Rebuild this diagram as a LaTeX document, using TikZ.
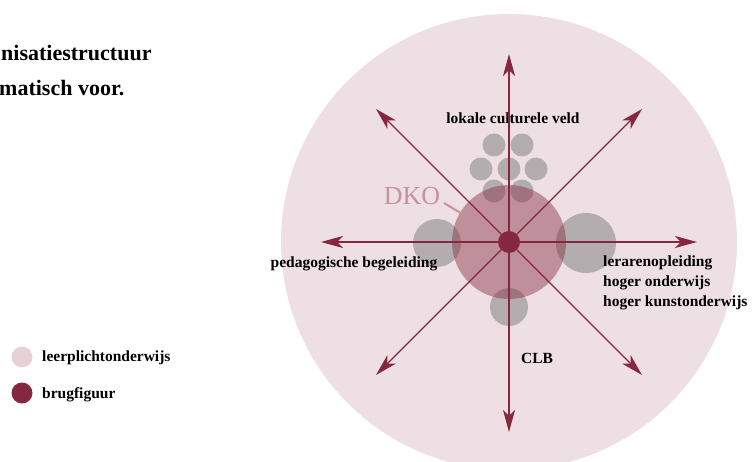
\documentclass[tikz,border=0pt]{standalone}
\usepackage{fontspec}
\setmainfont{Liberation Serif}
\usepackage{xcolor}
\usepackage{tikz}
\usetikzlibrary{arrows.meta}

\definecolor{wijn}{HTML}{85273F}
\definecolor{roze}{HTML}{EDDFE3}
\definecolor{lichtroze}{HTML}{E6D1D7}
\definecolor{dkotekst}{HTML}{C8919F}

\begin{document}
\begin{tikzpicture}[x=1pt,y=-1pt,
  etiket/.style={font=\fontsize{15.5}{20}\selectfont\bfseries,text=black,inner sep=0pt},
  titel/.style={font=\fontsize{22}{34}\selectfont\bfseries,text=black,inner sep=0pt},
  pijl/.style={-{Stealth[length=22pt,width=12pt,inset=6pt]},line width=1.4pt,draw=wijn},
  grijs/.style={circle,fill=gray,fill opacity=0.52,inner sep=0pt,minimum size=#1}
]
\useasboundingbox (0,0) rectangle (754,462);
\clip (0,0) rectangle (754,462);

% Background field
\node[circle,fill=roze,inner sep=0pt,minimum size=456pt] (veld) at (509,242) {};

% Grey partners
\node[grijs=23pt] (c1) at (494,145) {};
\node[grijs=23pt] (c2) at (522,145) {};
\node[grijs=23pt] (c3) at (481,169) {};
\node[grijs=23pt] (c4) at (509,169) {};
\node[grijs=23pt] (c5) at (536,169) {};
\node[grijs=23pt] (c6) at (494,191) {};
\node[grijs=23pt] (c7) at (522,191) {};
\node[grijs=48pt] (pbd) at (437,243) {};
\node[grijs=60pt] (hoger) at (586,243) {};
\node[grijs=38pt] (clb) at (509,307) {};

% DKO
\node[circle,fill=wijn,fill opacity=0.43,inner sep=0pt,minimum size=114pt] (dko) at (509,242) {};
\node[font=\fontsize{26}{26}\selectfont,text=dkotekst,inner sep=0pt,anchor=base] (dkolabel) at (412,205) {DKO};
\coordinate (dkohaak) at (444,203);
\draw[dkotekst,line width=2pt] (dkohaak) -- (dko);

% Labels
\node[etiket,anchor=base] (lokaal) at (513,124) {lokale culturele veld};
\node[etiket,anchor=base] (pedag) at (354,267) {pedagogische begeleiding};
\node[etiket,anchor=north west,align=left] (leraren) at (603,256)
  {lerarenopleiding\\ hoger onderwijs\\ hoger kunstonderwijs};
\node[etiket,anchor=base] (clblabel) at (537,363) {CLB};

% Hub
\node[circle,fill=wijn,inner sep=0pt,minimum size=22pt] (hub) at (509,242) {};

% Arrow ends
\coordinate (tipN) at (509,54);
\coordinate (tipS) at (509,432);
\coordinate (tipW) at (321,242);
\coordinate (tipE) at (697,242);
\coordinate (tipNW) at (376,109);
\coordinate (tipNE) at (642,109);
\coordinate (tipSW) at (376,375);
\coordinate (tipSE) at (642,375);

\draw[pijl] (hub) -- (tipN);
\draw[pijl] (hub) -- (tipS);
\draw[pijl] (hub) -- (tipW);
\draw[pijl] (hub) -- (tipE);
\draw[pijl] (hub) -- (tipNW);
\draw[pijl] (hub) -- (tipNE);
\draw[pijl] (hub) -- (tipSW);
\draw[pijl] (hub) -- (tipSE);

% Title fragment
\node[titel,anchor=base west] (titel1) at (1,61) {nisatiestructuur};
\node[titel,anchor=base west] (titel2) at (-1,96) {matisch voor.};

% Legend
\node[circle,fill=lichtroze,inner sep=0pt,minimum size=21pt] (lpo) at (22,357) {};
\node[circle,fill=wijn,inner sep=0pt,minimum size=21pt] (brug) at (22,393) {};
\node[etiket,anchor=base west] (lpotekst) at (42,361) {leerplichtonderwijs};
\node[etiket,anchor=base west] (brugtekst) at (42,398) {brugfiguur};

\end{tikzpicture}
\end{document}
